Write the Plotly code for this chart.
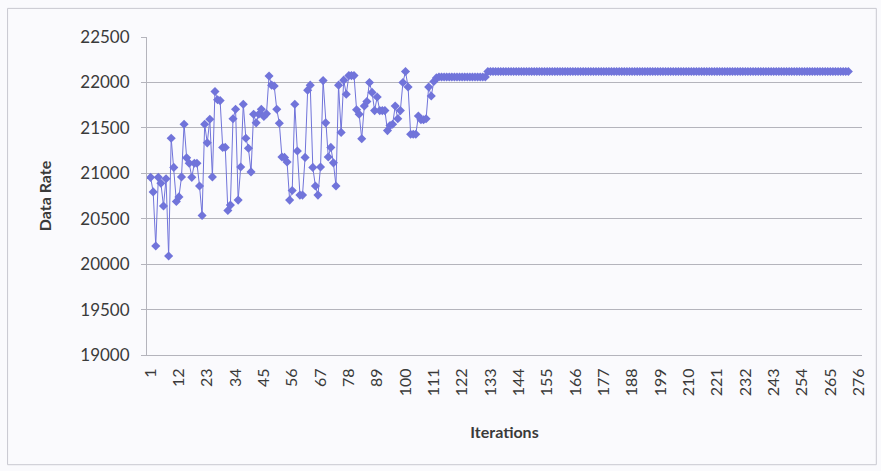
import plotly.graph_objects as go

# Data (Data Rate per iteration)
early_values = [
    20955, 20795, 20200, 20955, 20890, 20640, 20940, 20090, 21385, 21065,
    20690, 20740, 20960, 21540, 21170, 21110, 20955, 21110, 21110, 20860,
    20535, 21540, 21335, 21595, 20960, 21900, 21810, 21800, 21285, 21285,
    20590, 20650, 21600, 21705, 20705, 21070, 21760, 21385, 21275, 21015,
    21650, 21555, 21650, 21705, 21625, 21655, 22070, 21970, 21960, 21705,
    21550, 21180, 21175, 21125, 20705, 20810, 21760, 21245, 20760, 20760,
    21175, 21915, 21970, 21065, 20860, 20760, 21070, 22020, 21555, 21180,
    21285, 21115, 20860, 21970, 21450, 22025, 21870, 22075, 22075, 22075,
    21700, 21650, 21380, 21740, 21790, 22000, 21890, 21690, 21840, 21690,
    21690, 21690, 21470, 21525, 21540, 21740, 21600, 21690, 22000, 22120,
    21950, 21430, 21430, 21430, 21630, 21590, 21590, 21600, 21950, 21850,
    22010, 22050,
]
# Converged plateaus (constant values)
plateau_1 = [22060] * 19
plateau_2 = [22120] * 141

data_rate = early_values + plateau_1 + plateau_2
iterations = list(range(1, len(data_rate) + 1))

tick_vals = list(range(1, 277, 11))
tick_text = [str(v) for v in tick_vals]
y_tick_vals = [19000, 19500, 20000, 20500, 21000, 21500, 22000, 22500]
y_tick_text = [str(v) for v in y_tick_vals]

line_color = "#7174DA"
grid_color = "#B4B4BC"
text_color = "#3A3A3A"
font_family = "Lato, 'Open Sans', 'DejaVu Sans', sans-serif"

fig = go.Figure()
fig.add_trace(go.Scatter(
    x=iterations,
    y=data_rate,
    mode="lines+markers",
    line=dict(color=line_color, width=1),
    marker=dict(symbol="diamond", size=7, color=line_color),
    showlegend=False,
))

fig.update_layout(
    width=881,
    height=471,
    margin=dict(l=147, r=19, t=37, b=116),
    paper_bgcolor="#FAFAFD",
    plot_bgcolor="#FAFAFD",
    font=dict(family=font_family, size=16, color=text_color),
    xaxis=dict(
        range=[-0.4, 277.3],
        tickmode="array",
        tickvals=tick_vals,
        ticktext=tick_text,
        tickangle=-90,
        showgrid=False,
        showline=True,
        linecolor=grid_color,
        linewidth=1,
        ticks="",
        ticklabelstandoff=6,
        zeroline=False,
        tickfont=dict(size=16, color=text_color),
        title=dict(text="<b>Iterations</b>", font=dict(size=16, color=text_color), standoff=31),
    ),
    yaxis=dict(
        range=[19000, 22500],
        tickmode="array",
        tickvals=y_tick_vals,
        ticktext=y_tick_text,
        showgrid=True,
        gridcolor=grid_color,
        gridwidth=1,
        showline=True,
        linecolor=grid_color,
        linewidth=1,
        ticks="outside",
        ticklen=5,
        tickcolor=grid_color,
        ticklabelstandoff=8,
        zeroline=False,
        tickfont=dict(size=17, color=text_color),
        title=dict(text="<b>Data Rate</b>", font=dict(size=16, color=text_color), standoff=24),
    ),
    shapes=[
        dict(type="rect", xref="paper", yref="paper",
             x0=-0.195, x1=1.02, y0=-0.345, y1=1.09,
             line=dict(color="#C8C8D0", width=1), fillcolor="rgba(0,0,0,0)"),
    ],
)

fig.write_html("out.html")
